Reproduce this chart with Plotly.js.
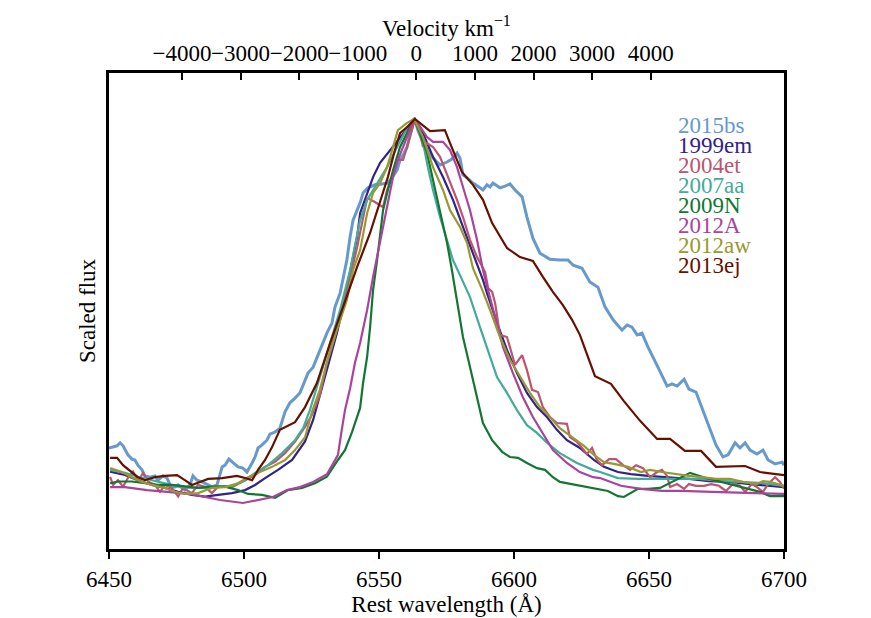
<!DOCTYPE html>
<html>
<head>
<meta charset="utf-8">
<script src="https://cdn.plot.ly/plotly-3.0.1.min.js"></script>
<style>
  html, body { margin: 0; padding: 0; background: #ffffff; }
  #plot { width: 871px; height: 618px; }
</style>
</head>
<body>
<div id="plot"></div>
<script>
// H-alpha profiles, rest wavelength (A) vs scaled flux (peak = 1)
const names = ["2015bs", "1999em", "2004et", "2007aa", "2009N", "2012A", "2012aw", "2013ej"];
const colors = ["#6699cc", "#332288", "#bb5570", "#44aa99", "#117733", "#aa4499", "#999933", "#661100"];
const widths = [3, 2.2, 2.2, 2.2, 2.2, 2.2, 2.2, 2.2];

const wl2015bs = [6450.0, 6451.1, 6453.0, 6454.1, 6455.2, 6457.0, 6458.5, 6459.6, 6460.7, 6462.2, 6463.3, 6465.2, 6467.0, 6468.1, 6470.0, 6471.5, 6472.6, 6474.4, 6475.6, 6478.1, 6480.0, 6481.1, 6482.6, 6484.4, 6485.6, 6486.7, 6488.1, 6490.0, 6491.9, 6493.0, 6494.4, 6495.9, 6497.8, 6499.6, 6501.1, 6503.0, 6504.1, 6505.2, 6506.7, 6508.5, 6509.6, 6511.5, 6513.3, 6515.2, 6517.0, 6518.9, 6520.7, 6521.9, 6523.7, 6525.6, 6528.1, 6530.7, 6532.6, 6533.7, 6535.6, 6536.7, 6538.1, 6539.3, 6540.4, 6543.0, 6544.1, 6545.9, 6548.5, 6551.1, 6553.3, 6554.8, 6556.7, 6557.8, 6558.9, 6560.4, 6561.5, 6562.6, 6563.3, 6564.4, 6565.9, 6568.1, 6570.0, 6572.6, 6575.2, 6577.0, 6578.1, 6578.9, 6580.0, 6580.7, 6581.1, 6582.6, 6584.8, 6587.4, 6588.5, 6590.0, 6591.1, 6592.2, 6594.8, 6596.7, 6598.5, 6600.4, 6603.0, 6604.8, 6607.0, 6609.6, 6613.3, 6617.0, 6620.0, 6621.9, 6625.2, 6628.1, 6631.1, 6633.7, 6636.7, 6640.0, 6641.9, 6643.7, 6645.6, 6647.4, 6649.6, 6653.3, 6656.7, 6658.5, 6660.4, 6663.0, 6664.8, 6667.4, 6669.6, 6672.2, 6674.8, 6677.4, 6679.3, 6681.9, 6683.7, 6685.6, 6687.4, 6690.0, 6692.2, 6694.1, 6696.7, 6699.3, 6700.0];
const fx2015bs = [0.235, 0.237, 0.240, 0.247, 0.240, 0.219, 0.209, 0.207, 0.195, 0.184, 0.170, 0.167, 0.170, 0.160, 0.170, 0.165, 0.149, 0.144, 0.149, 0.137, 0.149, 0.170, 0.160, 0.156, 0.153, 0.149, 0.144, 0.149, 0.191, 0.195, 0.209, 0.202, 0.191, 0.188, 0.179, 0.200, 0.214, 0.235, 0.242, 0.253, 0.267, 0.272, 0.281, 0.319, 0.340, 0.351, 0.363, 0.381, 0.409, 0.423, 0.463, 0.502, 0.526, 0.563, 0.595, 0.626, 0.672, 0.726, 0.765, 0.805, 0.828, 0.840, 0.847, 0.849, 0.851, 0.863, 0.881, 0.905, 0.916, 0.935, 0.967, 0.991, 0.998, 0.974, 0.951, 0.928, 0.909, 0.893, 0.900, 0.907, 0.916, 0.921, 0.909, 0.886, 0.870, 0.863, 0.851, 0.840, 0.835, 0.847, 0.842, 0.851, 0.840, 0.844, 0.849, 0.835, 0.819, 0.772, 0.723, 0.688, 0.674, 0.672, 0.672, 0.660, 0.653, 0.621, 0.609, 0.563, 0.533, 0.509, 0.521, 0.516, 0.498, 0.502, 0.470, 0.423, 0.379, 0.384, 0.379, 0.395, 0.372, 0.365, 0.328, 0.281, 0.242, 0.214, 0.219, 0.247, 0.235, 0.247, 0.230, 0.221, 0.230, 0.207, 0.198, 0.202, 0.195];

const wl1999em = [6450.4, 6455.9, 6460.7, 6465.9, 6470.7, 6475.6, 6480.7, 6485.6, 6490.4, 6495.6, 6500.4, 6504.1, 6507.8, 6512.6, 6517.8, 6522.6, 6525.6, 6528.1, 6530.7, 6534.4, 6536.7, 6539.3, 6541.9, 6543.0, 6545.6, 6547.8, 6550.4, 6554.1, 6557.8, 6560.7, 6563.3, 6566.3, 6570.0, 6573.7, 6577.4, 6581.1, 6584.8, 6588.5, 6590.0, 6593.7, 6597.4, 6601.1, 6604.8, 6608.5, 6612.2, 6615.9, 6619.6, 6624.4, 6629.6, 6633.3, 6638.5, 6643.3, 6649.6, 6657.4, 6664.8, 6672.2, 6680.0, 6687.4, 6694.8, 6700.0];
const fx1999em = [0.180, 0.172, 0.160, 0.149, 0.142, 0.133, 0.126, 0.122, 0.126, 0.130, 0.137, 0.149, 0.165, 0.184, 0.207, 0.250, 0.300, 0.358, 0.416, 0.502, 0.563, 0.642, 0.726, 0.781, 0.828, 0.865, 0.898, 0.928, 0.956, 0.981, 1.000, 0.967, 0.912, 0.865, 0.812, 0.749, 0.688, 0.626, 0.595, 0.526, 0.463, 0.409, 0.363, 0.330, 0.307, 0.277, 0.253, 0.235, 0.207, 0.191, 0.179, 0.174, 0.170, 0.167, 0.163, 0.158, 0.156, 0.151, 0.147, 0.144];

const wl2004et = [6450.4, 6451.5, 6453.3, 6455.2, 6457.0, 6458.9, 6460.7, 6462.6, 6464.4, 6467.0, 6468.9, 6470.7, 6473.3, 6475.6, 6477.4, 6480.7, 6483.0, 6485.6, 6488.1, 6490.4, 6495.6, 6500.4, 6504.1, 6507.8, 6511.5, 6515.2, 6518.9, 6522.6, 6525.2, 6528.1, 6530.7, 6534.4, 6538.1, 6541.9, 6544.1, 6545.6, 6548.5, 6551.5, 6553.0, 6554.8, 6556.7, 6558.9, 6560.4, 6562.2, 6563.3, 6565.2, 6566.3, 6567.8, 6570.0, 6572.6, 6575.6, 6578.9, 6581.1, 6583.7, 6586.3, 6589.3, 6590.4, 6591.9, 6593.0, 6594.8, 6597.4, 6598.5, 6600.4, 6603.0, 6604.8, 6606.7, 6608.9, 6610.7, 6613.3, 6615.9, 6619.6, 6620.7, 6623.3, 6625.2, 6627.0, 6628.9, 6630.7, 6632.6, 6635.2, 6637.8, 6640.4, 6643.0, 6645.2, 6647.8, 6650.4, 6653.0, 6654.8, 6656.7, 6657.8, 6660.4, 6663.0, 6664.8, 6667.4, 6670.4, 6673.0, 6675.9, 6678.5, 6681.1, 6683.7, 6685.6, 6688.1, 6690.0, 6692.2, 6694.1, 6696.7, 6698.5, 6700.0];
const fx2004et = [0.168, 0.149, 0.160, 0.145, 0.165, 0.180, 0.157, 0.177, 0.157, 0.149, 0.133, 0.149, 0.142, 0.122, 0.142, 0.130, 0.149, 0.145, 0.130, 0.145, 0.144, 0.160, 0.172, 0.191, 0.203, 0.223, 0.250, 0.284, 0.312, 0.358, 0.433, 0.516, 0.602, 0.702, 0.765, 0.816, 0.807, 0.795, 0.835, 0.865, 0.905, 0.905, 0.935, 0.974, 0.998, 0.967, 0.935, 0.944, 0.935, 0.912, 0.865, 0.812, 0.772, 0.719, 0.679, 0.644, 0.607, 0.598, 0.572, 0.498, 0.493, 0.470, 0.428, 0.451, 0.416, 0.370, 0.365, 0.330, 0.307, 0.293, 0.291, 0.260, 0.249, 0.235, 0.221, 0.235, 0.207, 0.195, 0.209, 0.209, 0.195, 0.184, 0.195, 0.188, 0.167, 0.179, 0.184, 0.170, 0.144, 0.151, 0.140, 0.151, 0.147, 0.147, 0.151, 0.147, 0.135, 0.151, 0.147, 0.133, 0.151, 0.144, 0.133, 0.151, 0.167, 0.156, 0.140];

const wl2007aa = [6450.4, 6455.9, 6460.7, 6465.9, 6470.7, 6475.6, 6480.7, 6485.6, 6490.4, 6495.6, 6500.4, 6504.1, 6508.9, 6514.1, 6518.9, 6521.9, 6524.4, 6528.1, 6531.9, 6535.6, 6539.3, 6543.0, 6545.6, 6549.3, 6553.0, 6556.7, 6560.4, 6563.0, 6565.9, 6568.1, 6570.0, 6572.6, 6575.2, 6577.4, 6580.0, 6583.7, 6587.4, 6591.1, 6593.7, 6597.4, 6601.1, 6604.8, 6608.5, 6612.2, 6617.0, 6623.3, 6629.3, 6631.9, 6638.5, 6645.9, 6653.3, 6661.1, 6668.5, 6677.4, 6684.8, 6692.2, 6700.0];
const fx2007aa = [0.184, 0.177, 0.168, 0.160, 0.153, 0.145, 0.142, 0.142, 0.145, 0.147, 0.160, 0.177, 0.195, 0.223, 0.253, 0.281, 0.323, 0.400, 0.479, 0.556, 0.649, 0.765, 0.812, 0.851, 0.888, 0.935, 0.979, 1.002, 0.958, 0.888, 0.835, 0.772, 0.719, 0.672, 0.637, 0.586, 0.516, 0.447, 0.400, 0.363, 0.323, 0.288, 0.270, 0.247, 0.223, 0.200, 0.184, 0.179, 0.165, 0.163, 0.163, 0.163, 0.163, 0.158, 0.156, 0.153, 0.147];

const wl2009N = [6450.4, 6453.3, 6458.5, 6463.3, 6468.1, 6473.3, 6478.1, 6483.0, 6488.1, 6493.0, 6497.8, 6501.5, 6506.7, 6511.5, 6516.3, 6521.5, 6526.3, 6530.7, 6534.8, 6537.4, 6540.0, 6543.0, 6544.1, 6545.6, 6546.7, 6547.8, 6549.3, 6550.4, 6551.5, 6553.3, 6555.2, 6557.8, 6560.4, 6563.0, 6565.2, 6567.8, 6570.0, 6572.6, 6575.2, 6577.0, 6578.9, 6581.1, 6583.7, 6586.3, 6588.5, 6591.9, 6595.6, 6598.5, 6601.5, 6604.8, 6608.5, 6611.5, 6614.4, 6617.0, 6624.4, 6629.6, 6634.8, 6638.5, 6640.7, 6645.9, 6649.6, 6654.1, 6658.5, 6665.2, 6671.1, 6678.5, 6684.8, 6691.1, 6694.8, 6700.0];
const fx2009N = [0.153, 0.157, 0.157, 0.153, 0.149, 0.149, 0.145, 0.142, 0.145, 0.145, 0.137, 0.128, 0.126, 0.119, 0.137, 0.142, 0.153, 0.168, 0.207, 0.230, 0.272, 0.328, 0.386, 0.447, 0.516, 0.602, 0.672, 0.735, 0.788, 0.835, 0.881, 0.935, 0.967, 1.000, 0.967, 0.921, 0.858, 0.788, 0.712, 0.649, 0.572, 0.493, 0.423, 0.353, 0.293, 0.253, 0.226, 0.214, 0.212, 0.200, 0.188, 0.184, 0.167, 0.156, 0.147, 0.140, 0.135, 0.123, 0.121, 0.140, 0.140, 0.142, 0.156, 0.177, 0.165, 0.153, 0.144, 0.133, 0.123, 0.123];

const wl2012A = [6450.4, 6455.9, 6464.1, 6470.7, 6480.0, 6485.6, 6491.1, 6499.6, 6505.9, 6510.7, 6515.9, 6520.7, 6525.6, 6530.7, 6533.3, 6534.8, 6535.9, 6537.4, 6539.3, 6541.1, 6543.0, 6545.6, 6547.8, 6550.4, 6552.2, 6554.1, 6555.2, 6557.0, 6558.9, 6560.7, 6562.6, 6563.3, 6567.8, 6570.0, 6573.7, 6576.3, 6578.9, 6581.1, 6583.7, 6586.3, 6588.5, 6590.4, 6593.0, 6595.9, 6599.6, 6603.3, 6607.0, 6610.7, 6614.4, 6619.6, 6624.4, 6629.3, 6631.9, 6639.6, 6647.0, 6654.8, 6662.2, 6673.3, 6687.4, 6700.0];
const fx2012A = [0.144, 0.144, 0.137, 0.133, 0.128, 0.121, 0.114, 0.107, 0.114, 0.121, 0.137, 0.144, 0.156, 0.174, 0.202, 0.219, 0.265, 0.323, 0.374, 0.433, 0.479, 0.556, 0.633, 0.712, 0.772, 0.828, 0.865, 0.905, 0.935, 0.967, 0.993, 1.000, 0.958, 0.947, 0.947, 0.928, 0.888, 0.842, 0.788, 0.719, 0.649, 0.602, 0.540, 0.470, 0.409, 0.353, 0.307, 0.270, 0.230, 0.200, 0.179, 0.167, 0.165, 0.147, 0.140, 0.135, 0.135, 0.133, 0.130, 0.128];

const wl2012aw = [6450.4, 6454.8, 6458.5, 6462.2, 6465.9, 6470.7, 6474.4, 6478.1, 6483.0, 6488.1, 6493.0, 6497.8, 6501.5, 6505.2, 6510.4, 6515.2, 6518.9, 6522.6, 6525.2, 6528.1, 6530.7, 6534.4, 6538.1, 6540.4, 6543.0, 6545.6, 6547.8, 6550.4, 6553.0, 6555.2, 6557.0, 6560.4, 6563.0, 6566.3, 6570.0, 6573.7, 6576.3, 6580.0, 6582.6, 6584.8, 6588.1, 6591.1, 6594.8, 6598.5, 6602.2, 6605.9, 6609.6, 6613.3, 6617.0, 6621.5, 6625.9, 6629.6, 6633.3, 6637.0, 6642.2, 6647.0, 6650.4, 6654.8, 6659.6, 6664.8, 6669.6, 6674.8, 6680.0, 6684.8, 6690.0, 6692.2, 6694.8, 6700.0];
const fx2012aw = [0.188, 0.179, 0.167, 0.156, 0.149, 0.142, 0.133, 0.128, 0.130, 0.142, 0.144, 0.153, 0.167, 0.177, 0.191, 0.207, 0.230, 0.260, 0.319, 0.370, 0.433, 0.509, 0.579, 0.649, 0.695, 0.781, 0.828, 0.851, 0.888, 0.935, 0.974, 0.991, 1.000, 0.958, 0.888, 0.835, 0.788, 0.749, 0.712, 0.653, 0.605, 0.556, 0.493, 0.440, 0.400, 0.363, 0.330, 0.307, 0.281, 0.260, 0.240, 0.219, 0.202, 0.198, 0.191, 0.179, 0.184, 0.179, 0.174, 0.170, 0.167, 0.163, 0.163, 0.156, 0.151, 0.158, 0.156, 0.147];

const wl2013ej = [6450.4, 6453.0, 6455.2, 6458.5, 6460.7, 6463.3, 6467.0, 6470.7, 6475.2, 6478.1, 6480.7, 6483.7, 6486.7, 6491.9, 6497.4, 6500.4, 6503.0, 6505.2, 6507.8, 6510.4, 6513.3, 6518.9, 6522.6, 6527.0, 6531.9, 6536.7, 6541.9, 6546.7, 6550.4, 6553.3, 6555.9, 6557.8, 6560.4, 6563.3, 6568.9, 6574.4, 6576.3, 6578.9, 6580.7, 6584.8, 6588.5, 6591.9, 6594.8, 6597.4, 6602.2, 6607.0, 6610.7, 6614.4, 6618.1, 6621.5, 6624.4, 6626.3, 6630.0, 6635.9, 6640.7, 6646.7, 6653.0, 6657.8, 6663.3, 6669.3, 6674.8, 6685.6, 6691.1, 6700.0];
const fx2013ej = [0.212, 0.212, 0.195, 0.177, 0.167, 0.160, 0.167, 0.170, 0.172, 0.160, 0.149, 0.156, 0.163, 0.165, 0.170, 0.165, 0.160, 0.184, 0.207, 0.237, 0.277, 0.295, 0.330, 0.386, 0.479, 0.563, 0.656, 0.735, 0.805, 0.865, 0.928, 0.967, 0.981, 1.000, 0.972, 0.974, 0.944, 0.905, 0.877, 0.847, 0.812, 0.758, 0.726, 0.700, 0.679, 0.670, 0.633, 0.598, 0.567, 0.533, 0.498, 0.467, 0.402, 0.384, 0.344, 0.298, 0.256, 0.256, 0.228, 0.228, 0.191, 0.193, 0.179, 0.172];

const wlSeries = [wl2015bs, wl1999em, wl2004et, wl2007aa, wl2009N, wl2012A, wl2012aw, wl2013ej];
const fxSeries = [fx2015bs, fx1999em, fx2004et, fx2007aa, fx2009N, fx2012A, fx2012aw, fx2013ej];

const wlTicks = [6450, 6500, 6550, 6600, 6650, 6700];
const velTicks = [-4000, -3000, -2000, -1000, 0, 1000, 2000, 3000, 4000];
const velTickText = ["\u22124000", "\u22123000", "\u22122000", "\u22121000", "0", "1000", "2000", "3000", "4000"];

const WL_RANGE = [6450, 6700];
const VEL_RANGE = [-5245, 6275];
const FONT = "Liberation Serif, Times New Roman, serif";

const traces = names.map((name, i) => ({
  x: wlSeries[i],
  y: fxSeries[i],
  type: "scatter",
  mode: "lines",
  name: name,
  line: { color: colors[i], width: widths[i] },
  hoverinfo: "skip",
}));

// invisible trace so the top velocity axis gets drawn
traces.push({
  x: VEL_RANGE,
  y: [null, null],
  xaxis: "x2",
  type: "scatter",
  mode: "lines",
  showlegend: false,
  hoverinfo: "skip",
});

const labels = names.map((name, i) => ({
  text: name,
  xref: "paper",
  yref: "paper",
  x: 0.84,
  y: 0.889 - i * 0.042,
  xanchor: "left",
  yanchor: "middle",
  showarrow: false,
  font: { family: FONT, size: 23, color: colors[i] },
}));

// top axis title sits right on top of the velocity tick labels
labels.push({
  text: "Velocity km<sup>\u22121</sup>",
  xref: "paper",
  yref: "paper",
  x: 0.5,
  y: 1.062,
  xanchor: "center",
  yanchor: "bottom",
  showarrow: false,
  font: { family: FONT, size: 23, color: "#000000" },
});

const layout = {
  width: 871,
  height: 618,
  margin: { l: 109, r: 87, t: 73, b: 69 },
  paper_bgcolor: "#ffffff",
  plot_bgcolor: "#ffffff",
  showlegend: false,
  font: { family: FONT, size: 23, color: "#000000" },
  xaxis: {
    range: WL_RANGE,
    tickvals: wlTicks,
    ticks: "outside",
    ticklen: 7,
    tickwidth: 2,
    tickcolor: "#000000",
    showline: true,
    mirror: true,
    linecolor: "#000000",
    linewidth: 3,
    showgrid: false,
    zeroline: false,
    tickfont: { family: FONT, size: 23 },
    title: { text: "Rest wavelength (\u00c5)", font: { family: FONT, size: 23 }, standoff: 6 },
  },
  xaxis2: {
    overlaying: "x",
    side: "top",
    range: VEL_RANGE,
    tickvals: velTicks,
    ticktext: velTickText,
    tickangle: 0,
    ticks: "inside",
    ticklen: 7,
    tickwidth: 2,
    tickcolor: "#000000",
    showline: true,
    linecolor: "#000000",
    linewidth: 3,
    showgrid: false,
    zeroline: false,
    tickfont: { family: FONT, size: 23 },
  },
  yaxis: {
    range: [0, 1.107],
    showticklabels: false,
    ticks: "",
    showline: true,
    mirror: true,
    linecolor: "#000000",
    linewidth: 3,
    showgrid: false,
    zeroline: false,
    title: { text: "Scaled flux", font: { family: FONT, size: 23 }, standoff: 4 },
  },
  annotations: labels,
};

Plotly.newPlot("plot", traces, layout, { displayModeBar: false, staticPlot: true });
</script>
</body>
</html>
